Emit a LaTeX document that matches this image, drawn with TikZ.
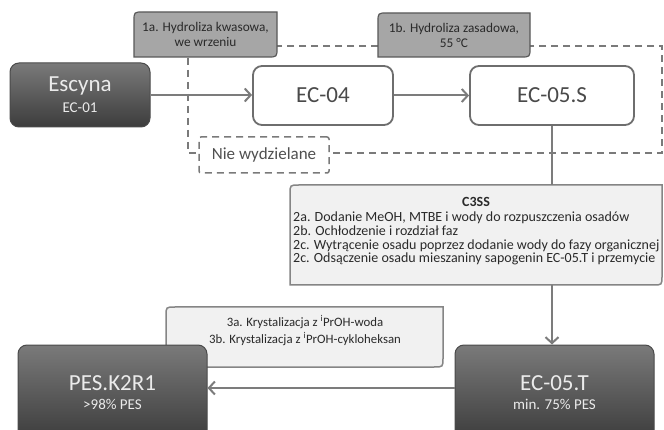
\documentclass[tikz,border=0pt]{standalone}
\usepackage{fontspec}
\setmainfont{Carlito}
\usetikzlibrary{arrows.meta}
\definecolor{darktop}{HTML}{7A7A7A}
\definecolor{darkbot}{HTML}{3C3C3C}
\definecolor{darkline}{HTML}{4A4A4A}
\definecolor{boxline}{HTML}{6E6E6E}
\definecolor{connc}{HTML}{7C7C7C}
\definecolor{dashc}{HTML}{7A7A7A}
\definecolor{labfill}{HTML}{A6A6A6}
\definecolor{labline}{HTML}{595959}
\definecolor{lightfill}{HTML}{F1F1F1}
\definecolor{lightline}{HTML}{858585}
\definecolor{txtdark}{HTML}{2A2A2A}
\definecolor{txtgray}{HTML}{505050}
\newcommand\dframe[5]{\path[#5] (#1,#4) -- (#1,#2+9) .. controls (#1,#2) .. (#1+9,#2) -- (#3,#2) -- (#3,#4-9) .. controls (#3,#4) .. (#3-9,#4) -- cycle;}
\begin{document}
\begin{tikzpicture}[x=1pt,y=-1pt,
  darkbox/.style={rounded corners=9pt, top color=darktop, bottom color=darkbot, draw=darkline, line width=1pt, text=white!92!black, align=center, inner sep=0pt},
  whitebox/.style={rounded corners=9pt, fill=white, draw=boxline, line width=1.8pt, text=txtdark!85!white, inner sep=0pt, font=\fontsize{23}{26}\selectfont},
  labframe/.style={fill=labfill, draw=labline, line width=1.2pt},
  lightframe/.style={fill=lightfill, draw=lightline, line width=1.5pt},
  labtext/.style={text=txtdark, align=center, font=\fontsize{13.3}{15}\selectfont, inner sep=0pt},
  conn/.style={draw=connc, line width=2pt},
  tip/.style={-{Straight Barb[length=6pt,width=13pt,line width=2pt]}},
  dashreg/.style={draw=dashc, line width=1.5pt, dash pattern=on 7pt off 5pt}
]
\useasboundingbox (0,0) rectangle (664,430);
\clip (0,0) rectangle (664,430);
\fill[white] (0,0) rectangle (664,430);

% dashed region
\draw[dashreg] (188,46) rectangle (662,153);

% step labels
\dframe{134}{12}{277}{57}{labframe}
\node[labtext] (hydA) at (205.5,34.5) {1a. Hydroliza kwasowa,\\we wrzeniu};
\dframe{378}{13}{530}{57}{labframe}
\node[labtext] (hydB) at (454,35) {1b. Hydroliza zasadowa,\\55 °C};

% top row
\node[darkbox, minimum width=140pt, minimum height=64pt, font=\fontsize{15}{21}\selectfont] (escyna) at (80,95) {{\fontsize{23}{26}\selectfont Escyna}\\EC-01};
\node[whitebox, minimum width=140pt, minimum height=59pt] (ec04) at (323,95.5) {EC-04};
\node[whitebox, minimum width=164pt, minimum height=59pt] (ec05s) at (552,95.5) {EC-05.S};

\draw[conn,tip] (escyna.east) -- (escyna.east -| ec04.west);
\draw[conn,tip] (ec04.east) -- (ec04.east -| ec05s.west);

% Nie wydzielane
\node[draw=dashc, line width=1.5pt, dash pattern=on 7pt off 5pt, rounded corners=2pt, fill=white, text=txtgray, minimum width=130pt, minimum height=36pt, inner sep=0pt, font=\fontsize{17}{20}\selectfont] (nie) at (264,155) {Nie wydzielane};

% C3SS box
\dframe{290}{185}{662}{285}{lightframe}
\node[minimum width=372pt, minimum height=100pt, inner sep=0pt] (c3ss) at (476,235) {};
\node[labtext, font=\bfseries\fontsize{14}{15}\selectfont] (c3title) at (476,202) {C3SS};
\node[labtext, align=left, anchor=north west, font=\fontsize{14}{13.6}\selectfont] (c3lines) at (293,212) {2a. Dodanie MeOH, MTBE i wody do rozpuszczenia osadów\\2b. Ochłodzenie i rozdział faz\\2c. Wytrącenie osadu poprzez dodanie wody do fazy organicznej\\2c. Odsączenie osadu mieszaniny sapogenin EC-05.T i przemycie};

% bottom row
\dframe{166}{307}{443}{367}{lightframe}
\node[labtext, font=\fontsize{12.8}{17}\selectfont] (kryst) at (305,330.5) {3a. Krystalizacja z \textsuperscript{i}PrOH-woda\\3b. Krystalizacja z \textsuperscript{i}PrOH-cykloheksan};

\node[darkbox, minimum width=189pt, minimum height=95pt, font=\fontsize{15}{19}\selectfont] (pes) at (112.5,392.5) {{\fontsize{23}{26}\selectfont PES.K2R1}\\>98\% PES};
\node[darkbox, minimum width=199pt, minimum height=95pt, font=\fontsize{15}{19}\selectfont] (ec05t) at (554.5,392.5) {{\fontsize{23}{26}\selectfont EC-05.T}\\min. 75\% PES};

% vertical connectors
\draw[conn] (ec05s.south) -- (ec05s.south |- c3ss.north);
\draw[conn,tip] (ec05s.south |- c3ss.south) -- (ec05s.south |- ec05t.north);

% bottom arrow
\coordinate (arrY) at (0,388);
\draw[conn,tip] (ec05t.west |- arrY) -- (pes.east |- arrY);
\end{tikzpicture}
\end{document}
